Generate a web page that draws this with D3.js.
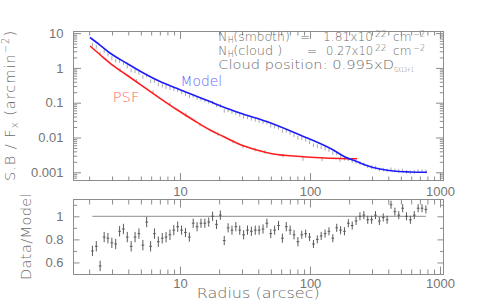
<!DOCTYPE html>
<html><head><meta charset="utf-8">
<script src="https://cdn.jsdelivr.net/npm/d3@7"></script>
<style>
html,body{margin:0;padding:0;background:#fff;}
svg{display:block;}
</style></head><body>
<svg id="c" width="492" height="305"></svg>
<script>
// ---------------- data ----------------
const radius = [2.12,2.27,2.43,2.61,2.79,2.99,3.20,3.43,3.67,3.93,4.21,4.51,4.83,5.18,5.54,5.94,6.36,6.81,7.30,7.81,8.37,8.96,9.60,
  10.28,11.01,11.80,12.63,13.53,14.50,15.53,16.63,17.81,19.08,20.44,21.89,23.45,25.11,26.90,28.81,30.86,33.05,35.40,37.92,40.62,43.51,46.60,49.91,53.46,57.26,61.33,65.70,70.37,75.37,80.73,
  86.47,92.62,99.21,106.3,113.8,121.9,130.6,139.9,149.8,160.5,171.9,184.1,197.2,211.2,226.2,242.3,259.6,278.0,297.8,319.0,341.7,366.0,392.0,419.9,449.7,481.7,516.0,552.6,591.9,634.0,679.1,727.4,779.1];
const ratio = [0.70,0.74,0.57,0.82,0.81,0.77,0.76,0.87,0.89,0.82,0.74,0.82,0.85,0.75,0.95,0.74,0.85,0.78,0.81,0.82,0.84,0.88,0.91,
  0.88,0.86,0.82,0.94,0.91,0.94,0.94,0.95,1.00,0.93,1.01,0.79,0.90,0.88,0.91,0.88,0.84,0.88,0.87,0.88,0.88,0.89,0.94,0.85,0.88,0.92,0.81,0.91,0.88,0.84,0.78,
  0.84,0.85,0.82,0.76,0.80,0.83,0.85,0.87,0.81,0.90,0.88,0.87,0.94,0.92,0.96,1.00,1.01,0.97,0.97,1.01,0.96,0.99,0.97,1.10,1.04,1.01,1.07,1.00,0.97,1.01,1.07,1.07,1.06];
const ratioErr = [0.045,0.045,0.045,0.045,0.045,0.045,0.045,0.045,0.045,0.045,0.045,0.045,0.045,0.045,0.045,0.045,0.045,0.045,0.045,0.045,0.045,0.045,0.045,
  0.04,0.04,0.04,0.04,0.04,0.04,0.04,0.04,0.04,0.04,0.04,0.04,0.04,0.04,0.04,0.04,0.04,0.04,0.04,0.04,0.04,0.04,0.04,0.04,0.04,0.04,0.04,0.04,0.04,0.04,0.04,
  0.035,0.035,0.035,0.035,0.035,0.035,0.035,0.035,0.035,0.035,0.035,0.035,0.035,0.035,0.035,0.035,0.035,0.035,0.035,0.035,0.035,0.035,0.035,0.035,0.035,0.035,0.035,0.035,0.035,0.035,0.035,0.035,0.035];

const modelR = [2.03,2.42,2.89,3.89,5.22,7.02,9.43,12.66,17.0,21.5,28.9,46.4,83.8,151,186,228.5,273,345,435,587,794];
const modelV = [7.48,4.55,2.68,1.36,0.714,0.406,0.259,0.166,0.108,0.0752,0.0506,0.0288,0.0118,0.00437,0.00275,0.00204,0.00157,0.00124,0.00109,0.00102,0.000998];

const psfR = [2.03,2.42,2.89,3.89,5.22,7.02,9.43,12.66,17.0,21.5,28.9,38.9,52.2,83.8,119.6,169.8,230];
const psfV = [4.26,2.43,1.38,0.625,0.288,0.1337,0.0637,0.0318,0.0164,0.01067,0.00628,0.00437,0.00335,0.00284,0.00261,0.00249,0.00245];

const psfDataR = [3.46,4.64,6.20,8.38,11.1,14.25,19.6,25.6,30.5,37.8,45.1,62.0,88.3,123.6,170];
const psfDataV = [0.87,0.42,0.203,0.0917,0.0443,0.0236,0.0126,0.00766,0.00551,0.00451,0.00383,0.00303,0.00241,0.00233,0.00225];

const xTickValues = [10,100,1000];
const xTickLabels = ["10","100","1000"];
const topYTickValues = [0.001,0.01,0.1,1,10];
const topYTickLabels = ["0.001","0.01","0.1","1","10"];
const botYTickValues = [0.6,0.8,1];
const botYTickLabels = ["0.6","0.8","1"];
const botYMinorValues = [0.5,0.7,0.9,1.1];

// ---------------- drawing ----------------
const svg = d3.select("#c");
const AX = "#8c8c8c", TX = "#6a6a6a";
const TICKFONT = "'Liberation Sans', Arial, sans-serif";
const LBLFONT = "'DejaVu Sans', sans-serif";

const x = d3.scaleLog().domain([1.516, 1064]).range([73.5, 443.5]);
const yT = d3.scaleLog().domain([0.0006, 11.5]).range([180, 31]);
const yB = d3.scaleLinear().domain([0.5, 1.15]).range([274, 199]);

const isDecade = d => { const l = Math.log10(d); return Math.abs(l - Math.round(l)) < 1e-6; };
const xMinor = x.ticks().filter(d => !isDecade(d));
const yTMinor = yT.ticks().filter(d => !isDecade(d));

function axis(gen, tx, ty, vals, size, labels, pad) {
  const g = svg.append("g").attr("transform", `translate(${tx},${ty})`)
    .call(gen.tickValues(vals).tickSize(size).tickPadding(pad || 3)
      .tickFormat(labels ? ((d, i) => labels[i]) : () => ""));
  g.select(".domain").remove();
  g.attr("font-family", TICKFONT).attr("font-size", 13);
  g.selectAll("line").attr("stroke", AX).attr("stroke-width", 1);
  g.selectAll("text").attr("fill", "#757575");
  return g;
}

// frames
[[31,180],[199,274]].forEach(([t,b]) => {
  svg.append("rect").attr("x", 73.5).attr("y", t + 0.5).attr("width", 370).attr("height", b - t)
    .attr("fill", "none").attr("stroke", AX).attr("stroke-width", 1);
});

// top panel axes
axis(d3.axisBottom(x), 0, 180.5, xTickValues, -7.5, xTickLabels, 6);
axis(d3.axisBottom(x), 0, 180.5, xMinor, -4);
axis(d3.axisTop(x), 0, 31.5, xTickValues, -7.5);
axis(d3.axisTop(x), 0, 31.5, xMinor, -4);
axis(d3.axisLeft(yT), 73.5, 0, topYTickValues, -7.5, topYTickLabels, 10);
axis(d3.axisLeft(yT), 73.5, 0, yTMinor, -3.7);
axis(d3.axisRight(yT), 443.5, 0, topYTickValues, -7.5);
axis(d3.axisRight(yT), 443.5, 0, yTMinor, -3.7);

// bottom panel axes
axis(d3.axisBottom(x), 0, 274.5, xTickValues, -8, xTickLabels, 4.5);
axis(d3.axisBottom(x), 0, 274.5, xMinor, -5);
axis(d3.axisTop(x), 0, 199.5, xTickValues, -8);
axis(d3.axisTop(x), 0, 199.5, xMinor, -5);
axis(d3.axisLeft(yB), 73.5, 0, botYTickValues, -6, botYTickLabels, 10);
axis(d3.axisLeft(yB), 73.5, 0, botYMinorValues, -3.5);
axis(d3.axisRight(yB), 443.5, 0, botYTickValues, -6);
axis(d3.axisRight(yB), 443.5, 0, botYMinorValues, -3.5);

// model interpolation (log-log) for data = ratio * model
function modelAt(r) {
  let i = 0;
  while (i < modelR.length - 2 && modelR[i + 1] < r) i++;
  const t = (Math.log(r) - Math.log(modelR[i])) / (Math.log(modelR[i + 1]) - Math.log(modelR[i]));
  return Math.exp(Math.log(modelV[i]) + t * (Math.log(modelV[i + 1]) - Math.log(modelV[i])));
}

// top panel data marks (light gray short dashes)
const topData = radius.map((r, i) => ({ r, v: ratio[i] * modelAt(r) }));
const gD = svg.append("g").attr("stroke", "#a8a8a8").attr("stroke-width", 1);
topData.forEach(d => {
  const cx = x(d.r), cy = yT(d.v);
  gD.append("line").attr("x1", cx).attr("x2", cx).attr("y1", cy - 1.8).attr("y2", cy + 1.8);
});
psfDataR.forEach((r, i) => {
  const cx = x(r), cy = yT(psfDataV[i]);
  gD.append("line").attr("x1", cx).attr("x2", cx).attr("y1", cy - 1.8).attr("y2", cy + 1.8);
});

// curves
const line = d3.line().x(d => x(d[0])).y(d => yT(d[1])).curve(d3.curveMonotoneX);
svg.append("path").datum(psfR.map((r, i) => [r, psfV[i]])).attr("d", line)
  .attr("fill", "none").attr("stroke", "#ff1c1c").attr("stroke-width", 1.6);
svg.append("path").datum(modelR.map((r, i) => [r, modelV[i]])).attr("d", line)
  .attr("fill", "none").attr("stroke", "#1c1cff").attr("stroke-width", 1.6);

// bottom panel: unity line and ratio points
svg.append("line").attr("x1", x(radius[0])).attr("x2", x(radius[radius.length - 1]))
  .attr("y1", yB(1)).attr("y2", yB(1)).attr("stroke", "#8c8c8c").attr("stroke-width", 1);
const gB = svg.append("g").attr("stroke", "#5a5a5a").attr("stroke-width", 1);
radius.forEach((r, i) => {
  const cx = x(r), cy = yB(ratio[i]);
  gB.append("line").attr("x1", cx).attr("x2", cx).attr("y1", yB(ratio[i] - ratioErr[i])).attr("y2", yB(ratio[i] + ratioErr[i]));
  gB.append("line").attr("x1", x(r / 1.024)).attr("x2", x(r * 1.024)).attr("y1", cy).attr("y2", cy);
});

// labels
function txt(s, px, py, size, opts) {
  opts = opts || {};
  const t = svg.append("text").attr("x", px).attr("y", py).text(s)
    .attr("font-family", opts.font || LBLFONT).attr("font-size", size)
    .attr("font-weight", opts.weight || 200)
    .attr("fill", opts.fill || TX);
  if (opts.len) t.attr("textLength", opts.len).attr("lengthAdjust", "spacingAndGlyphs");
  if (opts.anchor) t.attr("text-anchor", opts.anchor);
  return t;
}
txt("Model", 180.5, 86, 13.5, { fill: "#6464ff", len: 41.5 });
txt("PSF", 112.8, 102.2, 13.5, { fill: "#ff6464", len: 26.5 });

// annotation block
const L1 = 41.3, L2 = 55.2, L3 = 69;
[[L1, "(smooth)", 56.5, "=", 300, "1.81x10", 323, 50], [L2, "(cloud )", 49, "=", 307, "0.27x10", 326, 47]].forEach(a => {
  const [b, paren, plen, eq, eqx, num, numx, numlen] = a;
  txt("N", 218.3, b, 12);
  txt("H", 227.8, b + 2, 8);
  txt(paren, 233.3, b, 12, { len: plen });
  txt(eq, eqx, b, 12);
  txt(num, numx, b, 12, { len: numlen });
  txt("22", 375, b - 4.5, 8.5, { len: 11.7 });
  txt("cm", 393, b, 12, { len: 18.5 });
  txt("\u22122", 413.3, b - 4.5, 8.5, { len: 11.7 });
});
txt("Cloud position: 0.995xD", 218.3, L3, 12, { len: 175.7 });
txt("GX13+1", 394.3, L3 + 3, 7, { len: 19.3 });

// axis titles
const yt = svg.append("text").attr("transform", "translate(14.5,105.5) rotate(-90)")
  .attr("text-anchor", "middle").attr("font-family", LBLFONT).attr("font-size", 14.5)
  .attr("font-weight", 200).attr("fill", TX).attr("letter-spacing", 1);
yt.append("tspan").text("S.B / F");
yt.append("tspan").text("x").attr("font-size", 10).attr("dy", 3);
yt.append("tspan").text(" (arcmin").attr("dy", -3);
yt.append("tspan").text("\u22122").attr("font-size", 10).attr("dy", -6);
yt.append("tspan").text(")").attr("dy", 6);

svg.append("text").attr("transform", "translate(31,236.5) rotate(-90)")
  .attr("text-anchor", "middle").attr("font-family", LBLFONT).attr("font-size", 14.5)
  .attr("font-weight", 200).attr("fill", TX).attr("letter-spacing", 0.4).text("Data/Model");

txt("Radius (arcsec)", 196.7, 298, 14.5, { len: 123 });
</script>
</body></html>
